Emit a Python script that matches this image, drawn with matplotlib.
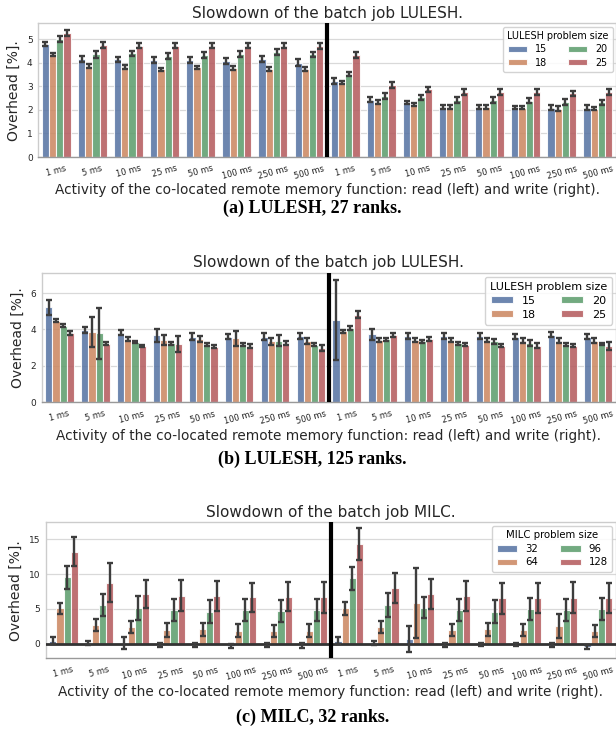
import matplotlib
matplotlib.use("Agg")
import matplotlib.pyplot as plt
import numpy as np
import seaborn as sns

ACTIVITY = ["1 ms", "5 ms", "10 ms", "25 ms", "50 ms", "100 ms", "250 ms", "500 ms"]
TICKS = ACTIVITY + ACTIVITY  # read (left) then write (right)

LULESH_SIZES = ["15", "18", "20", "25"]
MILC_SIZES = ["32", "64", "96", "128"]

# (a) LULESH, 27 ranks -- one row per problem size, 8 read + 8 write values
lulesh27_mean = [
    [4.79, 4.15, 4.15, 4.12, 4.12, 4.09, 4.15, 4.01, 3.22, 2.44, 2.32, 2.13, 2.13, 2.10, 2.10, 2.10],
    [4.36, 3.86, 3.81, 3.72, 3.81, 3.79, 3.74, 3.74, 3.15, 2.34, 2.23, 2.13, 2.13, 2.10, 2.06, 2.06],
    [5.01, 4.36, 4.40, 4.30, 4.33, 4.37, 4.45, 4.36, 3.52, 2.60, 2.53, 2.41, 2.41, 2.39, 2.33, 2.33],
    [5.28, 4.76, 4.73, 4.73, 4.73, 4.73, 4.73, 4.72, 4.33, 3.05, 2.87, 2.77, 2.77, 2.76, 2.70, 2.76],
]
lulesh27_err = [
    [0.08, 0.12, 0.10, 0.12, 0.12, 0.12, 0.12, 0.15, 0.12, 0.10, 0.08, 0.10, 0.10, 0.08, 0.12, 0.12],
    [0.07, 0.07, 0.08, 0.08, 0.07, 0.08, 0.08, 0.07, 0.06, 0.07, 0.07, 0.07, 0.07, 0.07, 0.12, 0.08],
    [0.12, 0.15, 0.12, 0.12, 0.12, 0.12, 0.12, 0.12, 0.10, 0.12, 0.12, 0.12, 0.12, 0.10, 0.12, 0.10],
    [0.12, 0.12, 0.12, 0.12, 0.12, 0.12, 0.12, 0.12, 0.12, 0.12, 0.12, 0.12, 0.12, 0.12, 0.12, 0.12],
]

# (b) LULESH, 125 ranks
lulesh125_mean = [
    [5.21, 3.98, 3.83, 3.67, 3.61, 3.61, 3.61, 3.63, 4.53, 3.74, 3.65, 3.65, 3.65, 3.61, 3.71, 3.61],
    [4.48, 3.85, 3.47, 3.43, 3.47, 3.52, 3.34, 3.36, 3.89, 3.43, 3.43, 3.43, 3.43, 3.39, 3.39, 3.39],
    [4.20, 3.80, 3.30, 3.25, 3.19, 3.19, 3.38, 3.17, 4.07, 3.47, 3.34, 3.25, 3.34, 3.25, 3.16, 3.21],
    [3.80, 3.21, 3.10, 3.21, 3.06, 3.10, 3.25, 2.99, 4.81, 3.71, 3.47, 3.16, 3.10, 3.12, 3.10, 3.10],
]
lulesh125_err = [
    [0.40, 0.15, 0.15, 0.35, 0.20, 0.15, 0.20, 0.15, 2.20, 0.30, 0.15, 0.15, 0.15, 0.15, 0.15, 0.15],
    [0.08, 0.82, 0.10, 0.28, 0.15, 0.40, 0.20, 0.15, 0.10, 0.10, 0.10, 0.12, 0.10, 0.12, 0.12, 0.12],
    [0.08, 1.40, 0.06, 0.08, 0.07, 0.07, 0.30, 0.07, 0.10, 0.08, 0.10, 0.08, 0.15, 0.15, 0.08, 0.07],
    [0.10, 0.08, 0.07, 0.45, 0.08, 0.10, 0.10, 0.15, 0.20, 0.10, 0.10, 0.08, 0.08, 0.12, 0.08, 0.20],
]

# (c) MILC, 32 ranks
milc32_mean = [
    [0.48, 0.10, 0.10, -0.19, -0.20, -0.24, -0.14, -0.22, 0.48, 0.10, 0.69, -0.14, -0.10, -0.10, -0.14, -0.38],
    [5.10, 2.71, 2.48, 2.00, 2.10, 1.90, 1.86, 1.90, 5.10, 2.48, 5.90, 2.00, 2.10, 2.00, 2.57, 1.86],
    [9.52, 5.57, 5.10, 4.86, 4.62, 4.86, 4.71, 4.86, 9.38, 5.57, 5.19, 4.86, 4.62, 5.00, 4.86, 5.00],
    [13.2, 8.76, 7.14, 6.90, 6.86, 6.67, 6.76, 6.67, 14.24, 7.95, 7.14, 6.86, 6.52, 6.52, 6.62, 6.52],
]
milc32_err = [
    [0.45, 0.30, 0.85, 0.30, 0.30, 0.30, 0.30, 0.30, 0.45, 0.30, 1.90, 0.30, 0.25, 0.25, 0.30, 0.30],
    [0.80, 0.90, 0.85, 0.95, 0.90, 0.90, 0.90, 0.90, 0.95, 0.85, 5.00, 0.90, 0.90, 0.90, 1.75, 0.85],
    [1.60, 1.60, 1.70, 1.55, 1.60, 1.60, 1.60, 1.60, 1.60, 1.70, 1.55, 1.60, 1.60, 1.60, 1.55, 1.60],
    [2.05, 2.80, 2.05, 2.20, 2.20, 2.10, 2.10, 2.20, 2.30, 2.15, 2.10, 2.20, 2.20, 2.15, 2.20, 2.15],
]

COLORS = sns.color_palette("deep", 4, desat=0.75)
TEXT = "#262626"


def draw_panel(ax, means, errs, sizes, legend_title, title, ylim, yticks, legend_fs, zero_line):
    n_groups = len(TICKS)
    x = np.arange(n_groups)
    width = 0.8 / len(sizes)
    for i, (m, e, label) in enumerate(zip(means, errs, sizes)):
        pos = x - 0.4 + width * (i + 0.5)
        ax.bar(pos, m, width, color=COLORS[i], edgecolor="white", linewidth=0.8,
               alpha=0.88, label=label, zorder=2)
        ax.errorbar(pos, m, yerr=e, fmt="none", ecolor="#3d3d3d", elinewidth=1.7,
                    capsize=2.3, capthick=1.7, zorder=4)

    ax.set_xlim(-0.5, n_groups - 0.5)
    ax.set_ylim(*ylim)
    ax.set_yticks(yticks)
    ax.axvline(7.5, color="black", linewidth=3, zorder=5)
    if zero_line:
        ax.axhline(0, color="#333333", linewidth=2, zorder=3)

    ax.set_xticks(x)
    ax.set_xticklabels(TICKS, rotation=15, fontsize=6, color=TEXT)
    ax.tick_params(axis="y", labelsize=6.5, colors=TEXT, length=0, pad=4)
    ax.tick_params(axis="x", length=0, pad=5)
    ax.grid(axis="y", color="#d9d9d9", linewidth=0.9, zorder=0)
    ax.set_axisbelow(True)
    for name, sp in ax.spines.items():
        sp.set_color("#cccccc")
        sp.set_linewidth(1.0)
    ax.spines["bottom"].set_color("#999999")

    ax.set_title(title, fontsize=11, color=TEXT, pad=4)
    ax.set_ylabel("Overhead [%].", fontsize=10, color=TEXT, labelpad=4)
    ax.set_xlabel("Activity of the co-located remote memory function: read (left) and write (right).",
                  fontsize=9.8, color=TEXT, labelpad=2)

    leg = ax.legend(title=legend_title, ncol=2, loc="upper right", fontsize=legend_fs,
                    title_fontsize=legend_fs, frameon=True, fancybox=True,
                    borderaxespad=0.35, handlelength=2.0, handleheight=0.6,
                    columnspacing=2.2, labelspacing=0.35, borderpad=0.45)
    leg.get_frame().set_edgecolor("#cccccc")
    leg.get_frame().set_alpha(0.85)


fig = plt.figure(figsize=(6.16, 7.32), dpi=100)

ax_a = fig.add_axes([0.062, 0.7855, 0.938, 0.1827])
draw_panel(ax_a, lulesh27_mean, lulesh27_err, LULESH_SIZES, "LULESH problem size",
           "Slowdown of the batch job LULESH.", (0, 5.68), [0, 1, 2, 3, 4, 5], 6.9, False)

ax_b = fig.add_axes([0.0677, 0.4504, 0.9323, 0.1766])
draw_panel(ax_b, lulesh125_mean, lulesh125_err, LULESH_SIZES, "LULESH problem size",
           "Slowdown of the batch job LULESH.", (0, 7.1), [0, 2, 4, 6], 8, False)

ax_c = fig.add_axes([0.0742, 0.1007, 0.9258, 0.1858])
draw_panel(ax_c, milc32_mean, milc32_err, MILC_SIZES, "MILC problem size",
           "Slowdown of the batch job MILC.", (-2.05, 17.4), [0, 5, 10, 15], 7.3, True)

cap_font = dict(fontsize=13, fontweight="bold", family="Liberation Serif", ha="center", va="center")
fig.text(0.507, 0.716, "(a) LULESH, 27 ranks.", **cap_font)
fig.text(0.507, 0.372, "(b) LULESH, 125 ranks.", **cap_font)
fig.text(0.507, 0.0205, "(c) MILC, 32 ranks.", **cap_font)

fig.savefig("out.png", dpi=100)
